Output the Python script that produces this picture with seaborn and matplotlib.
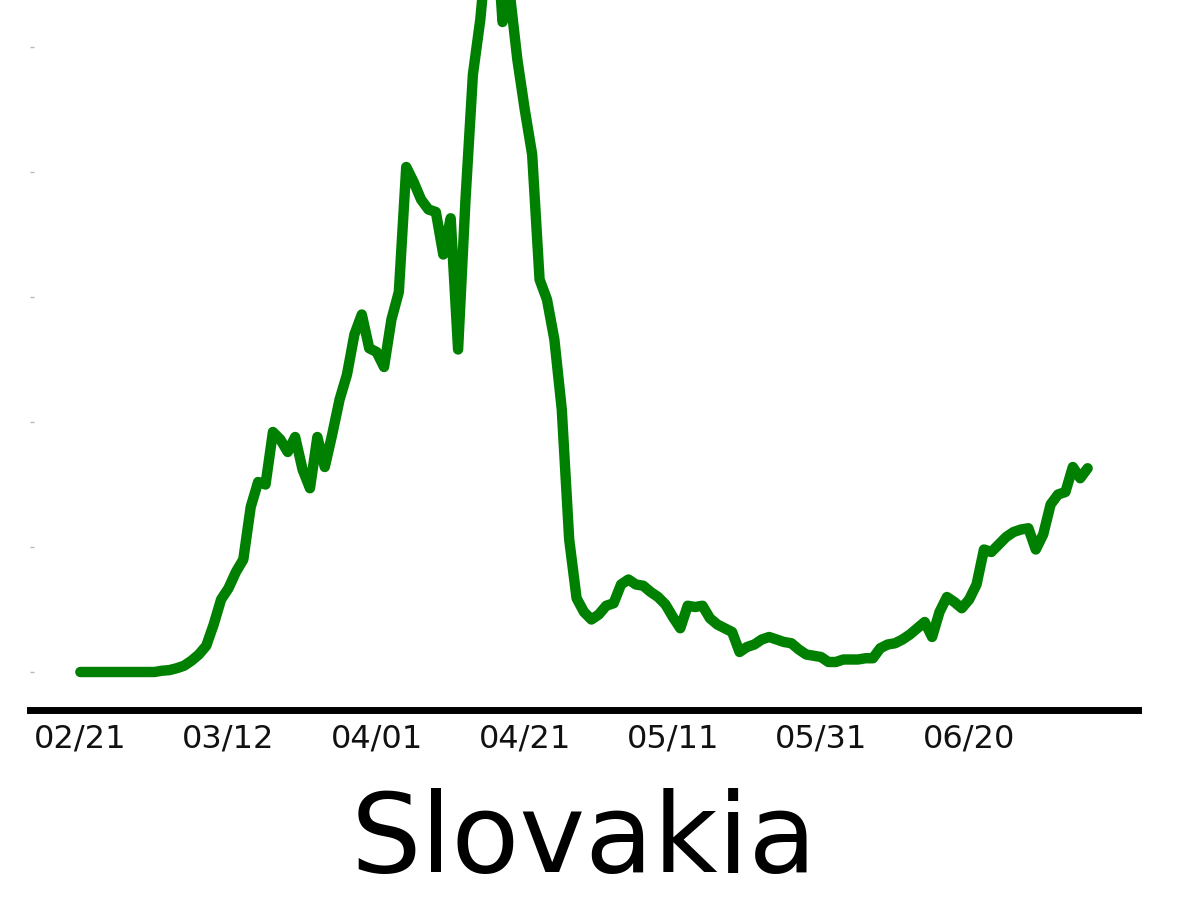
import pandas as pd
import numpy as np

import matplotlib
matplotlib.use("Agg")
import matplotlib.pyplot as plt
import seaborn as sns

sns.set_style("white")
plt.rcParams['font.family'] = ['DejaVu Sans']

# Daily values, 2020-02-21 .. 2020-07-06
country = "Slovakia"
start_date = "2020-02-21"
values = [
    0, 0, 0, 0, 0, 0, 0, 0, 0, 0,
    0, 0.1, 0.15, 0.3, 0.5, 0.9, 1.4, 2.1, 3.8, 5.8,
    6.7, 8.0, 9.0, 13.2, 15.2, 15.0, 19.2, 18.6, 17.6, 18.8,
    16.2, 14.7, 18.8, 16.4, 19.0, 21.8, 23.8, 27.0, 28.6, 25.9,
    25.6, 24.4, 28.2, 30.4, 40.4, 39.2, 37.8, 37.0, 36.8, 33.4,
    36.3, 25.8, 37.8, 47.8, 52.2, 58.6, 60.8, 52.0, 54.2, 49.0,
    45.0, 41.4, 31.4, 29.8, 26.6, 21.0, 10.6, 5.9, 4.8, 4.2,
    4.6, 5.3, 5.5, 7.0, 7.4, 7.0, 6.9, 6.4, 6.0, 5.4,
    4.4, 3.5, 5.3, 5.2, 5.3, 4.3, 3.8, 3.5, 3.2, 1.6,
    2.0, 2.2, 2.6, 2.8, 2.6, 2.4, 2.3, 1.8, 1.4, 1.3,
    1.2, 0.8, 0.8, 1.0, 1.0, 1.0, 1.1, 1.1, 1.9, 2.2,
    2.3, 2.6, 3.0, 3.5, 4.0, 2.8, 4.8, 6.0, 5.6, 5.1,
    5.8, 7.0, 9.8, 9.6, 10.2, 10.8, 11.2, 11.4, 11.5, 9.8,
    11.0, 13.4, 14.2, 14.4, 16.4, 15.5, 16.3,
]
tick_dates = ["2020-02-21", "2020-03-12", "2020-04-01", "2020-04-21",
              "2020-05-11", "2020-05-31", "2020-06-20"]
tick_labels = ["02/21", "03/12", "04/01", "04/21", "05/11", "05/31", "06/20"]
y_ticks = [0, 10, 20, 30, 40, 50]

df = pd.DataFrame({
    "date": pd.date_range(start_date, periods=len(values), freq="D"),
    "value": values,
})

fig = plt.figure(figsize=(12, 9), dpi=100)
ax = fig.add_axes([30 / 1200, 190 / 900, 1108 / 1200, 710 / 900])

sns.lineplot(data=df, x="date", y="value", color="green", linewidth=7.5, ax=ax)

# peak runs off the top of the frame, as in the original crop
ax.set_ylim(-3.04, 53.76)
ax.set_yticks(y_ticks)
ax.set_yticklabels([])
ax.tick_params(axis="y", left=True, direction="in", length=3, width=1,
               color="#bbbbbb")

ax.set_xticks(pd.to_datetime(tick_dates))
ax.set_xticklabels(tick_labels)
ax.tick_params(axis="x", length=0, pad=10, labelsize=23, labelcolor="#111111")

for side in ["top", "right", "left"]:
    ax.spines[side].set_visible(False)
ax.spines["bottom"].set_linewidth(5)
ax.spines["bottom"].set_color("black")

ax.set_ylabel("")
ax.set_xlabel(country, fontsize=80, labelpad=24, color="black")

fig.savefig("out.png", dpi=100)
